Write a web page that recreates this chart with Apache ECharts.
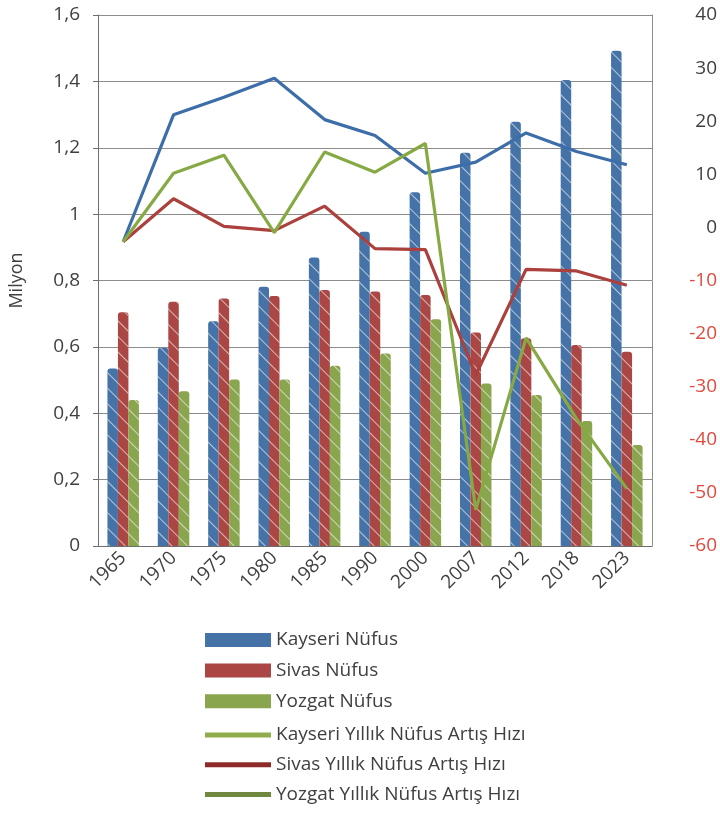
<!DOCTYPE html>
<html>
<head>
<meta charset="utf-8">
<script src="https://cdn.jsdelivr.net/npm/echarts@6/dist/echarts.min.js"></script>
<style>
  html, body { margin: 0; padding: 0; background: #fff; }
  #chart { width: 720px; height: 816px; }
</style>
</head>
<body>
<div id="chart"></div>
<script>
// yıllar
const years = ['1965', '1970', '1975', '1980', '1985', '1990', '2000', '2007', '2012', '2018', '2023'];

// nüfus (milyon)
const kayseriPop = [0.535, 0.597, 0.677, 0.781, 0.869, 0.947, 1.066, 1.185, 1.278, 1.404, 1.492];
const sivasPop = [0.704, 0.736, 0.746, 0.753, 0.771, 0.767, 0.756, 0.643, 0.626, 0.606, 0.585];
const yozgatPop = [0.44, 0.466, 0.502, 0.502, 0.543, 0.58, 0.683, 0.49, 0.455, 0.377, 0.304];

// yıllık nüfus artış hızı (sağ eksen)
const kayseriRate = [-2.7, 21.2, 24.5, 28.1, 20.3, 17.3, 10.2, 12.3, 17.8, 14.3, 11.8];
const sivasRate = [-2.7, 5.4, 0.2, -0.6, 4.0, -4.0, -4.2, -27.8, -7.9, -8.2, -10.9];
const yozgatRate = [-2.7, 10.2, 13.6, -1.0, 14.2, 10.4, 15.8, -53.2, -20.8, -36, -49.2];

const leftTicks = { min: 0, max: 1.6, interval: 0.2 };
const rightTicks = { min: -60, max: 40, interval: 10 };

const font = '"Open Sans", "Noto Sans", sans-serif';
const textColor = '#404040';

let chart = echarts.init(document.getElementById('chart'));

// taralı sütun deseni ("\" yönünde ince beyaz çizgiler)
function hatch() {
  return {
    symbol: 'rect',
    symbolSize: 1,
    color: 'rgba(255,255,255,0.6)',
    dashArrayX: [1, 0],
    dashArrayY: [1, 10],
    rotation: Math.PI / 4
  };
}

function barSeries(name, data, color) {
  return {
    name: name,
    type: 'bar',
    data: data,
    barWidth: 10.5,
    barGap: '0%',
    itemStyle: { color: color, borderRadius: [3, 3, 0, 0], decal: hatch() },
    emphasis: { disabled: true }
  };
}

function lineSeries(name, data, color) {
  return {
    name: name,
    type: 'line',
    yAxisIndex: 1,
    data: data,
    showSymbol: false,
    symbol: 'none',
    z: 5,
    itemStyle: { color: color },
    lineStyle: { color: color, width: 3.2 },
    emphasis: { disabled: true }
  };
}

let legendText = { fontFamily: font, fontSize: 19, color: textColor, lineHeight: 20 };

let option = {
  animation: false,
  textStyle: { fontFamily: font },
  grid: { left: 97, right: 66, top: 15, bottom: 270 },
  legend: [
    {
      orient: 'vertical',
      left: 200,
      top: 625,
      itemWidth: 66,
      itemHeight: 14,
      itemGap: 10.6,
      itemTextGap: 9,
      icon: 'rect',
      textStyle: legendText,
      data: [
        { name: 'Kayseri Nüfus', itemStyle: { color: '#4572a7', decal: 'none' } },
        { name: 'Sivas Nüfus', itemStyle: { color: '#aa4643', decal: 'none' } },
        { name: 'Yozgat Nüfus', itemStyle: { color: '#89a54e', decal: 'none' } }
      ]
    },
    {
      orient: 'vertical',
      left: 200,
      top: 720,
      itemWidth: 66,
      itemHeight: 5,
      itemGap: 9.8,
      itemTextGap: 9,
      icon: 'rect',
      textStyle: legendText,
      data: [
        { name: 'Kayseri Yıllık Nüfus Artış Hızı', itemStyle: { color: '#8fad4d' } },
        { name: 'Sivas Yıllık Nüfus Artış Hızı', itemStyle: { color: '#8e2b28' } },
        { name: 'Yozgat Yıllık Nüfus Artış Hızı', itemStyle: { color: '#71893f' } }
      ]
    }
  ],
  xAxis: {
    type: 'category',
    data: years,
    axisLine: { lineStyle: { color: '#6e6e6e', width: 1 } },
    axisTick: { show: false },
    axisLabel: {
      rotate: 45,
      margin: 9,
      fontSize: 19,
      fontFamily: font,
      color: textColor,
      interval: 0
    }
  },
  yAxis: [
    {
      type: 'value',
      min: leftTicks.min,
      max: leftTicks.max,
      interval: leftTicks.interval,
      name: 'Milyon',
      nameLocation: 'middle',
      nameGap: 72,
      nameRotate: 90,
      nameTextStyle: { fontFamily: font, fontSize: 18, color: textColor },
      axisLine: { show: true, lineStyle: { color: '#6e6e6e', width: 1 } },
      axisTick: { show: true, length: 5, lineStyle: { color: '#6e6e6e' } },
      axisLabel: {
        margin: 18,
        fontSize: 19,
        fontFamily: font,
        color: textColor,
        formatter: function (v) {
          return String(Math.round(v * 10) / 10).replace('.', ',');
        }
      },
      splitLine: { show: true, lineStyle: { color: '#8c8c8c', width: 1.2 } }
    },
    {
      type: 'value',
      position: 'right',
      min: rightTicks.min,
      max: rightTicks.max,
      interval: rightTicks.interval,
      axisLine: { show: true, lineStyle: { color: '#8c8c8c', width: 1 } },
      axisTick: { show: false },
      splitLine: { show: false },
      axisLabel: {
        margin: 65,
        align: 'right',
        fontSize: 19,
        fontFamily: font,
        formatter: function (v) {
          return v < 0 ? '{n|' + v + '}' : '{p|' + v + '}';
        },
        rich: {
          n: { color: '#e04a3f', fontSize: 19, fontFamily: font },
          p: { color: textColor, fontSize: 19, fontFamily: font }
        }
      }
    }
  ],
  series: [
    barSeries('Kayseri Nüfus', kayseriPop, '#4572a7'),
    barSeries('Sivas Nüfus', sivasPop, '#aa4643'),
    barSeries('Yozgat Nüfus', yozgatPop, '#89a54e'),
    lineSeries('Kayseri Yıllık Nüfus Artış Hızı', kayseriRate, '#3d6ea9'),
    lineSeries('Sivas Yıllık Nüfus Artış Hızı', sivasRate, '#ab403c'),
    lineSeries('Yozgat Yıllık Nüfus Artış Hızı', yozgatRate, '#86a944')
  ]
};

chart.setOption(option);
</script>
</body>
</html>
